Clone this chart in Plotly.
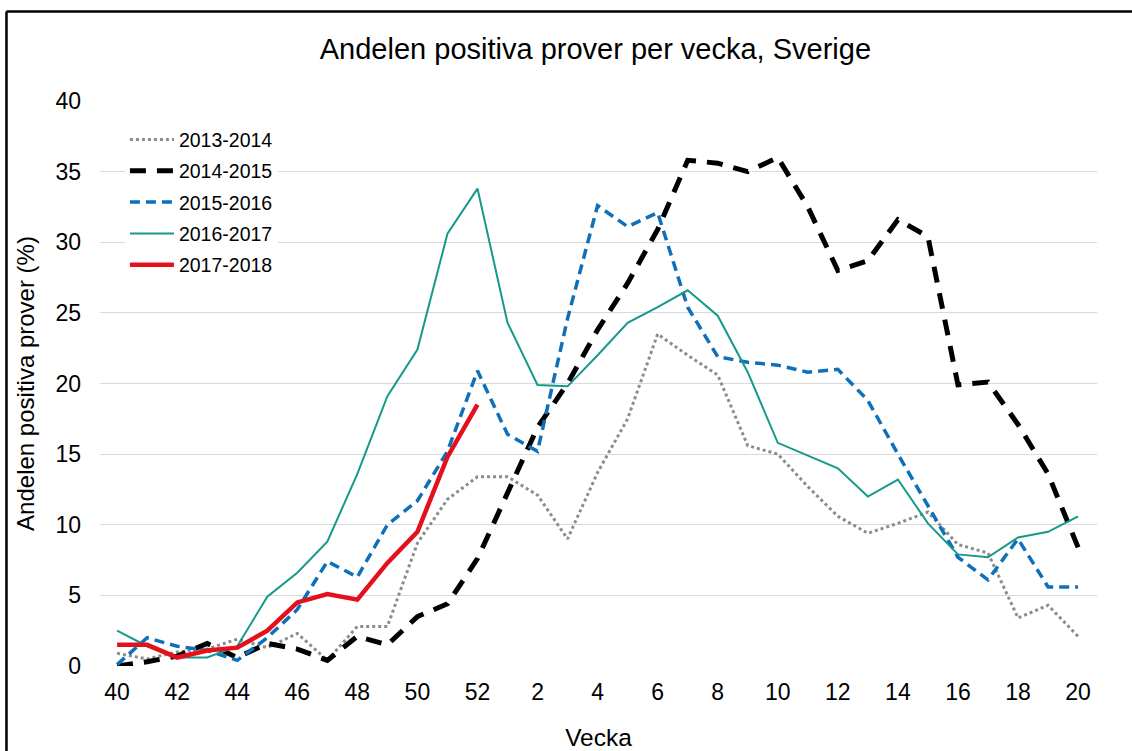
import plotly.graph_objects as go

weeks = [str(w) for w in list(range(40, 53)) + list(range(1, 21))]
tick_weeks = weeks[::2]

s2013_2014 = [0.9, 0.5, 1.0, 1.2, 1.9, 1.3, 2.3, 0.4, 2.8, 2.8, 8.7, 11.8, 13.4,
              13.4, 12.1, 9.0, 13.7, 17.5, 23.5, 22.0, 20.6, 15.6, 15.0, 12.7, 10.6,
              9.4, 10.1, 10.9, 8.6, 8.0, 3.4, 4.3, 2.1]
s2014_2015 = [0.0, 0.3, 0.7, 1.6, 0.6, 1.6, 1.2, 0.4, 2.1, 1.5, 3.5, 4.4, 7.6,
              12.2, 16.9, 20.0, 23.8, 27.1, 30.9, 35.8, 35.6, 35.0, 36.0, 32.5, 28.0,
              28.7, 31.6, 30.4, 19.9, 20.1, 17.1, 13.6, 8.4]
s2015_2016 = [0.1, 2.0, 1.4, 1.1, 0.4, 2.0, 4.0, 7.4, 6.3, 10.0, 11.7, 15.2, 20.9,
              16.4, 15.2, 24.6, 32.6, 31.1, 32.1, 25.4, 21.9, 21.5, 21.3, 20.8, 21.0,
              18.8, 15.0, 11.3, 7.7, 6.1, 9.0, 5.6, 5.6]
s2016_2017 = [2.5, 1.4, 0.6, 0.6, 1.4, 4.9, 6.6, 8.8, 13.6, 19.1, 22.4, 30.6, 33.8,
              24.3, 19.9, 19.8, 22.0, 24.3, 25.4, 26.6, 24.8, 20.8, 15.8, 14.9, 14.0,
              12.0, 13.2, 10.1, 7.9, 7.7, 9.1, 9.5, 10.6]
s2017_2018 = [1.5, 1.5, 0.6, 1.1, 1.3, 2.5, 4.5, 5.1, 4.7, 7.3, 9.5, 14.8, 18.5]

series = [
    ("2013-2014", s2013_2014, dict(color="#8c8c8c", width=3, dash="dot")),
    ("2014-2015", s2014_2015, dict(color="#000000", width=5, dash="16px,11px")),
    ("2015-2016", s2015_2016, dict(color="#0e6fba", width=3.5, dash="10px,6px")),
    ("2016-2017", s2016_2017, dict(color="#16998a", width=2)),
    ("2017-2018", s2017_2018, dict(color="#e3101e", width=4.5)),
]

FONT = "Liberation Sans, Arial, sans-serif"

fig = go.Figure()
for i, (name, vals, line) in enumerate(series):
    fig.add_trace(go.Scatter(
        x=weeks[:len(vals)], y=vals, name=name, mode="lines",
        line=line, legendgroup=f"g{i}",
    ))

fig.update_layout(
    width=1132, height=751,
    margin=dict(l=100, r=35, t=101, b=85, autoexpand=False),
    paper_bgcolor="white", plot_bgcolor="white",
    title=dict(text="Andelen positiva prover per vecka, Sverige",
               x=0.526, xanchor="center", y=0.935, yanchor="middle",
               font=dict(family=FONT, size=29, color="#000000")),
    font=dict(family=FONT, color="#000000"),
    showlegend=True,
    legend=dict(x=0.025, y=0.966, xanchor="left", yanchor="top",
                bgcolor="white", font=dict(family=FONT, size=19.5, color="#000000"),
                tracegroupgap=3, itemwidth=44),
    xaxis=dict(type="category", categoryorder="array", categoryarray=weeks,
               tickvals=tick_weeks, ticktext=tick_weeks,
               range=[-0.57, 32.63], showgrid=False, zeroline=False,
               showline=False, ticks="", tickfont=dict(family=FONT, size=23),
               ticklabelstandoff=10, automargin=False,
               title=dict(text="Vecka", font=dict(family=FONT, size=24.5), standoff=24)),
    yaxis=dict(range=[0, 40], dtick=5, showgrid=True, gridcolor="#d9d9d9",
               gridwidth=1, zeroline=False, showline=False, ticks="",
               tickfont=dict(family=FONT, size=23), ticklabelstandoff=18,
               automargin=False,
               title=dict(text="Andelen positiva prover (%)",
                          font=dict(family=FONT, size=24), standoff=14)),
)

# outer chart border (left and top edges of the frame)
fig.add_shape(type="line", xref="paper", yref="paper",
              x0=-0.0938, x1=1.06, y0=1.1584, y1=1.1584,
              line=dict(color="#000000", width=2.5))
fig.add_shape(type="line", xref="paper", yref="paper",
              x0=-0.0938, x1=-0.0938, y0=1.1584, y1=-0.2,
              line=dict(color="#000000", width=2.5))

fig.write_html("out.html", config={"displayModeBar": False},
               post_script="document.body.style.margin='0';document.body.style.overflow='hidden';")
